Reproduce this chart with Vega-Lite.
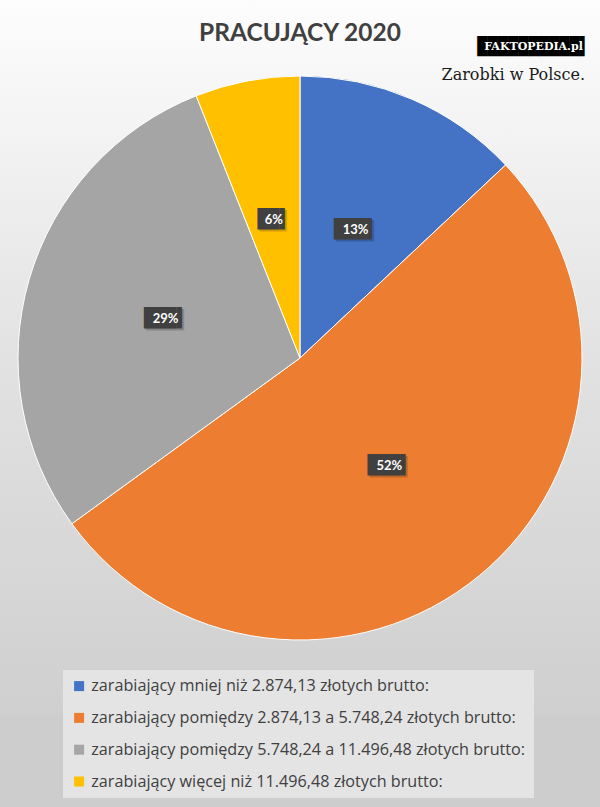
{
  "$schema": "https://vega.github.io/schema/vega-lite/v6.json",
  "width": 600,
  "height": 716,
  "autosize": {"type": "none"},
  "padding": {"left": 0, "right": 0, "top": 0, "bottom": 91},
  "background": "#cdcdcd",
  "title": {"text": "PRACUJĄCY 2020", "orient": "top", "anchor": "middle", "offset": -46, "font": "Lato", "fontSize": 24.5, "fontWeight": "bold", "color": "#404040"},
  "config": {
    "view": {"stroke": null, "fill": {"gradient": "linear", "x1": 0, "y1": 0, "x2": 0, "y2": 1, "stops": [{"offset": 0, "color": "#fdfdfd"}, {"offset": 0.5, "color": "#e2e2e2"}, {"offset": 1, "color": "#cfcfcf"}]}}
  },
  "datasets": {
    "slices": [
      {"cat": "zarabiający mniej niż 2.874,13 złotych brutto:", "pct": 13, "order": 1, "label": "13%"},
      {"cat": "zarabiający pomiędzy 2.874,13 a 5.748,24 złotych brutto:", "pct": 52, "order": 2, "label": "52%"},
      {"cat": "zarabiający pomiędzy 5.748,24 a 11.496,48 złotych brutto:", "pct": 29, "order": 3, "label": "29%"},
      {"cat": "zarabiający więcej niż 11.496,48 złotych brutto:", "pct": 6, "order": 4, "label": "6%"}
    ]
  },
  "layer": [
    {
      "data": {"name": "slices"},
      "mark": {"type": "arc", "outerRadius": 282, "stroke": "#ffffff", "strokeWidth": 1},
      "encoding": {
        "theta": {"field": "pct", "type": "quantitative", "stack": true},
        "order": {"field": "order", "type": "quantitative"},
        "color": {
          "field": "cat", "type": "nominal",
          "scale": {
            "domain": ["zarabiający mniej niż 2.874,13 złotych brutto:", "zarabiający pomiędzy 2.874,13 a 5.748,24 złotych brutto:", "zarabiający pomiędzy 5.748,24 a 11.496,48 złotych brutto:", "zarabiający więcej niż 11.496,48 złotych brutto:"],
            "range": ["#4472c4", "#ed7d31", "#a5a5a5", "#ffc000"]
          },
          "legend": {
            "title": null, "orient": "none", "legendX": 63, "legendY": 670,
            "fillColor": "#e4e4e4", "padding": 8, "rowPadding": 14.8,
            "symbolType": "square", "symbolSize": 100, "symbolStrokeWidth": 0,
            "labelFont": "Open Sans", "labelFontSize": 16.2, "labelColor": "#404040",
            "labelLimit": 1000, "labelOffset": 4
          }
        }
      }
    },
    {
      "data": {"name": "slices"},
      "mark": {"type": "text", "radius": 140, "font": "DejaVu Sans Mono", "fontSize": 18, "color": "#000000", "opacity": 0.18, "dx": 2, "dy": 2},
      "encoding": {
        "theta": {"field": "pct", "type": "quantitative", "stack": true},
        "order": {"field": "order", "type": "quantitative"},
        "text": {"condition": {"test": "datum.pct < 10", "value": "██▌"}, "value": "███▌"}
      }
    },
    {
      "data": {"name": "slices"},
      "mark": {"type": "text", "radius": 140, "font": "DejaVu Sans Mono", "fontSize": 18, "color": "#404040"},
      "encoding": {
        "theta": {"field": "pct", "type": "quantitative", "stack": true},
        "order": {"field": "order", "type": "quantitative"},
        "text": {"condition": {"test": "datum.pct < 10", "value": "██▌"}, "value": "███▌"}
      }
    },
    {
      "data": {"name": "slices"},
      "mark": {"type": "text", "radius": 140, "font": "Lato", "fontSize": 13, "fontWeight": "bold", "color": "#ffffff"},
      "encoding": {
        "theta": {"field": "pct", "type": "quantitative", "stack": true},
        "order": {"field": "order", "type": "quantitative"},
        "text": {"field": "label", "type": "nominal"}
      }
    },
    {
      "data": {"values": [{"name": "FAKTOPEDIA.pl"}]},
      "mark": {"type": "text", "font": "DejaVu Sans Mono", "fontSize": 17, "color": "#000000"},
      "encoding": {"x": {"value": 533.5}, "y": {"value": 47}, "text": {"value": "██████████▌"}}
    },
    {
      "data": {"values": [{"name": "FAKTOPEDIA.pl"}]},
      "mark": {"type": "text", "font": "DejaVu Serif", "fontSize": 11, "fontWeight": "bold", "color": "#ffffff"},
      "encoding": {"x": {"value": 533.5}, "y": {"value": 47}, "text": {"field": "name", "type": "nominal"}}
    },
    {
      "data": {"values": [{"name": "Zarobki w Polsce."}]},
      "mark": {"type": "text", "font": "DejaVu Serif", "fontSize": 16, "color": "#1a1a1a", "align": "right", "baseline": "alphabetic"},
      "encoding": {"x": {"value": 585}, "y": {"value": 80}, "text": {"field": "name", "type": "nominal"}}
    }
  ]
}
